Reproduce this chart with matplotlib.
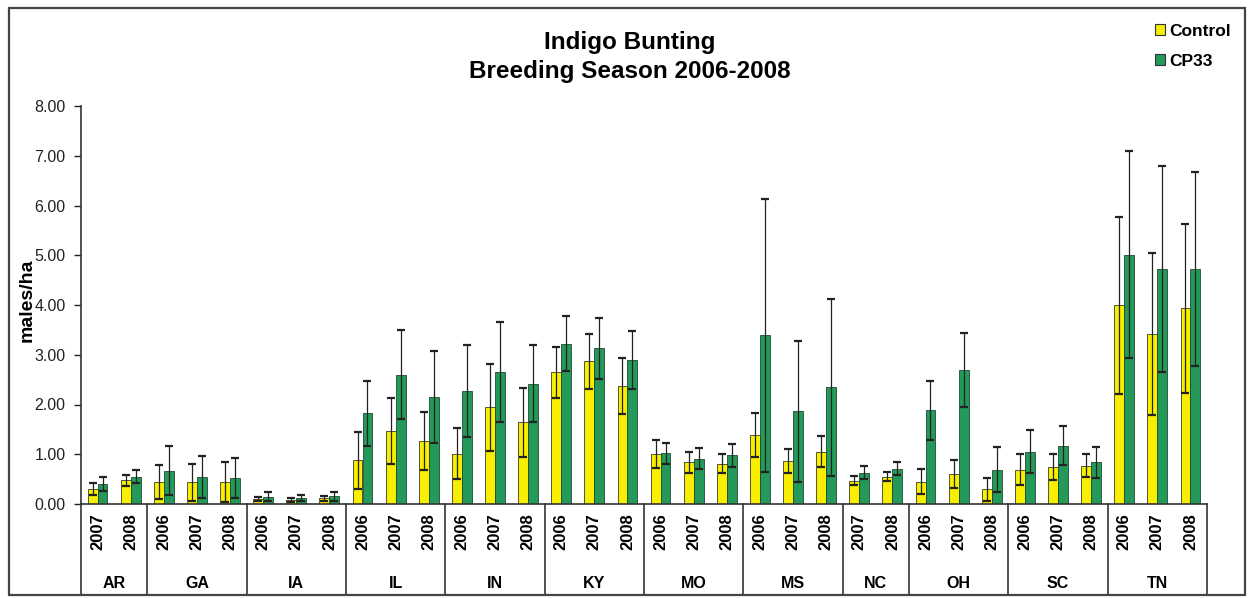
import numpy as np
import matplotlib
matplotlib.use("Agg")
import matplotlib.pyplot as plt
import matplotlib.transforms as mtransforms
from matplotlib.patches import Rectangle, Patch

plt.rcParams['font.family'] = ['Liberation Sans', 'DejaVu Sans']

# states and the survey years for each
states = ['AR', 'GA', 'IA', 'IL', 'IN', 'KY', 'MO', 'MS', 'NC', 'OH', 'SC', 'TN']
years = [['2007', '2008'], ['2006', '2007', '2008'], ['2006', '2007', '2008'],
         ['2006', '2007', '2008'], ['2006', '2007', '2008'], ['2006', '2007', '2008'],
         ['2006', '2007', '2008'], ['2006', '2007', '2008'], ['2007', '2008'],
         ['2006', '2007', '2008'], ['2006', '2007', '2008'], ['2006', '2007', '2008']]

# males/ha, one value per state-year
control = [0.31, 0.48,
           0.44, 0.44, 0.45,
           0.10, 0.08, 0.12,
           0.88, 1.47, 1.26,
           1.01, 1.94, 1.64,
           2.65, 2.87, 2.37,
           1.00, 0.84, 0.81,
           1.38, 0.86, 1.05,
           0.47, 0.55,
           0.45, 0.60, 0.30,
           0.69, 0.74, 0.77,
           3.99, 3.42, 3.93]
control_err = [0.12, 0.11,
               0.34, 0.37, 0.40,
               0.04, 0.04, 0.05,
               0.57, 0.66, 0.58,
               0.51, 0.88, 0.70,
               0.51, 0.55, 0.57,
               0.28, 0.21, 0.19,
               0.44, 0.24, 0.31,
               0.09, 0.09,
               0.25, 0.28, 0.23,
               0.31, 0.26, 0.23,
               1.78, 1.63, 1.69]
cp33 = [0.41, 0.55,
        0.67, 0.55, 0.52,
        0.15, 0.12, 0.16,
        1.82, 2.60, 2.15,
        2.27, 2.65, 2.42,
        3.22, 3.13, 2.90,
        1.02, 0.91, 0.98,
        3.39, 1.86, 2.35,
        0.63, 0.71,
        1.88, 2.69, 0.69,
        1.05, 1.17, 0.84,
        5.01, 4.72, 4.72]
cp33_err = [0.14, 0.13,
            0.49, 0.42, 0.40,
            0.09, 0.06, 0.09,
            0.66, 0.89, 0.92,
            0.92, 1.00, 0.78,
            0.55, 0.61, 0.58,
            0.21, 0.21, 0.23,
            2.74, 1.41, 1.78,
            0.13, 0.13,
            0.59, 0.75, 0.45,
            0.43, 0.39, 0.31,
            2.08, 2.07, 1.95]

yellow = '#f7ee00'
green = '#24995a'

fig = plt.figure(figsize=(12.48, 5.98), dpi=100)
ax = fig.add_axes([81 / 1248, 1 - 504 / 598, 1126 / 1248, 398 / 598])

year_labels = [y for ys in years for y in ys]
x = np.arange(len(year_labels))
w = 0.30

ax.bar(x - w / 2, control, w, color=yellow, edgecolor='#3a3a2a', linewidth=0.6,
       label='Control', zorder=2)
ax.bar(x + w / 2, cp33, w, color=green, edgecolor='#1d4a30', linewidth=0.6,
       label='CP33', zorder=2)
ax.errorbar(x - w / 2, control, yerr=control_err, fmt='none', ecolor='#222222',
            elinewidth=0.9, capsize=3, capthick=1.6, zorder=3)
ax.errorbar(x + w / 2, cp33, yerr=cp33_err, fmt='none', ecolor='#222222',
            elinewidth=0.9, capsize=3, capthick=1.6, zorder=3)

ax.set_xlim(-0.5, len(x) - 0.5)
ax.set_ylim(0, 8)
ax.set_yticks(np.arange(0, 8.01, 1))
ax.set_yticklabels(['%.2f' % v for v in np.arange(0, 8.01, 1)])
ax.tick_params(axis='y', direction='out', length=5, width=1, pad=6, labelsize=11.5,
               colors='#222222')
ax.set_xticks(x)
ax.set_xticklabels(year_labels, rotation=90, fontweight='bold', fontsize=12)
ax.tick_params(axis='x', length=0, pad=7)

for s in ['top', 'right']:
    ax.spines[s].set_visible(False)
ax.spines['left'].set_linewidth(1.2)
ax.spines['bottom'].set_linewidth(1.2)
ax.spines['left'].set_color('#333333')
ax.spines['bottom'].set_color('#333333')

ax.set_ylabel('males/ha', fontweight='bold', fontsize=14)
ax.yaxis.set_label_coords(-0.040, 0.513)

# state boxes under the year labels
trans = mtransforms.blended_transform_factory(ax.transData, ax.transAxes)
y_low = (504 - 595) / 398
edges = np.cumsum([0] + [len(ys) for ys in years]) - 0.5
for e in edges:
    ax.plot([e, e], [0, y_low], color='#333333', lw=1.2, transform=trans,
            clip_on=False)
for i, st in enumerate(states):
    ax.text((edges[i] + edges[i + 1]) / 2, (504 - 583) / 398, st, transform=trans,
            ha='center', va='center', fontweight='bold', fontsize=11.5)

fig.text(630 / 1248, 1 - 57 / 598, 'Indigo Bunting\nBreeding Season 2006-2008',
         ha='center', va='center', fontsize=17.5, fontweight='bold',
         linespacing=1.38)

handles = [Patch(facecolor=yellow, edgecolor='#333333', linewidth=0.8),
           Patch(facecolor=green, edgecolor='#333333', linewidth=0.8)]
fig.legend(handles, ['Control', 'CP33'], loc='upper left',
           bbox_to_anchor=(1155 / 1248, 1 - 24 / 598), frameon=False,
           borderpad=0, borderaxespad=0,
           handlelength=0.6, handleheight=0.6, handletextpad=0.2,
           labelspacing=0.85, prop={'weight': 'bold', 'size': 12.5})

fig.patches.append(Rectangle((9 / 1248, 3 / 598), 1236 / 1248, 587 / 598,
                             transform=fig.transFigure, fill=False,
                             edgecolor='#444444', linewidth=1.6))

fig.savefig('out.png', dpi=100)
